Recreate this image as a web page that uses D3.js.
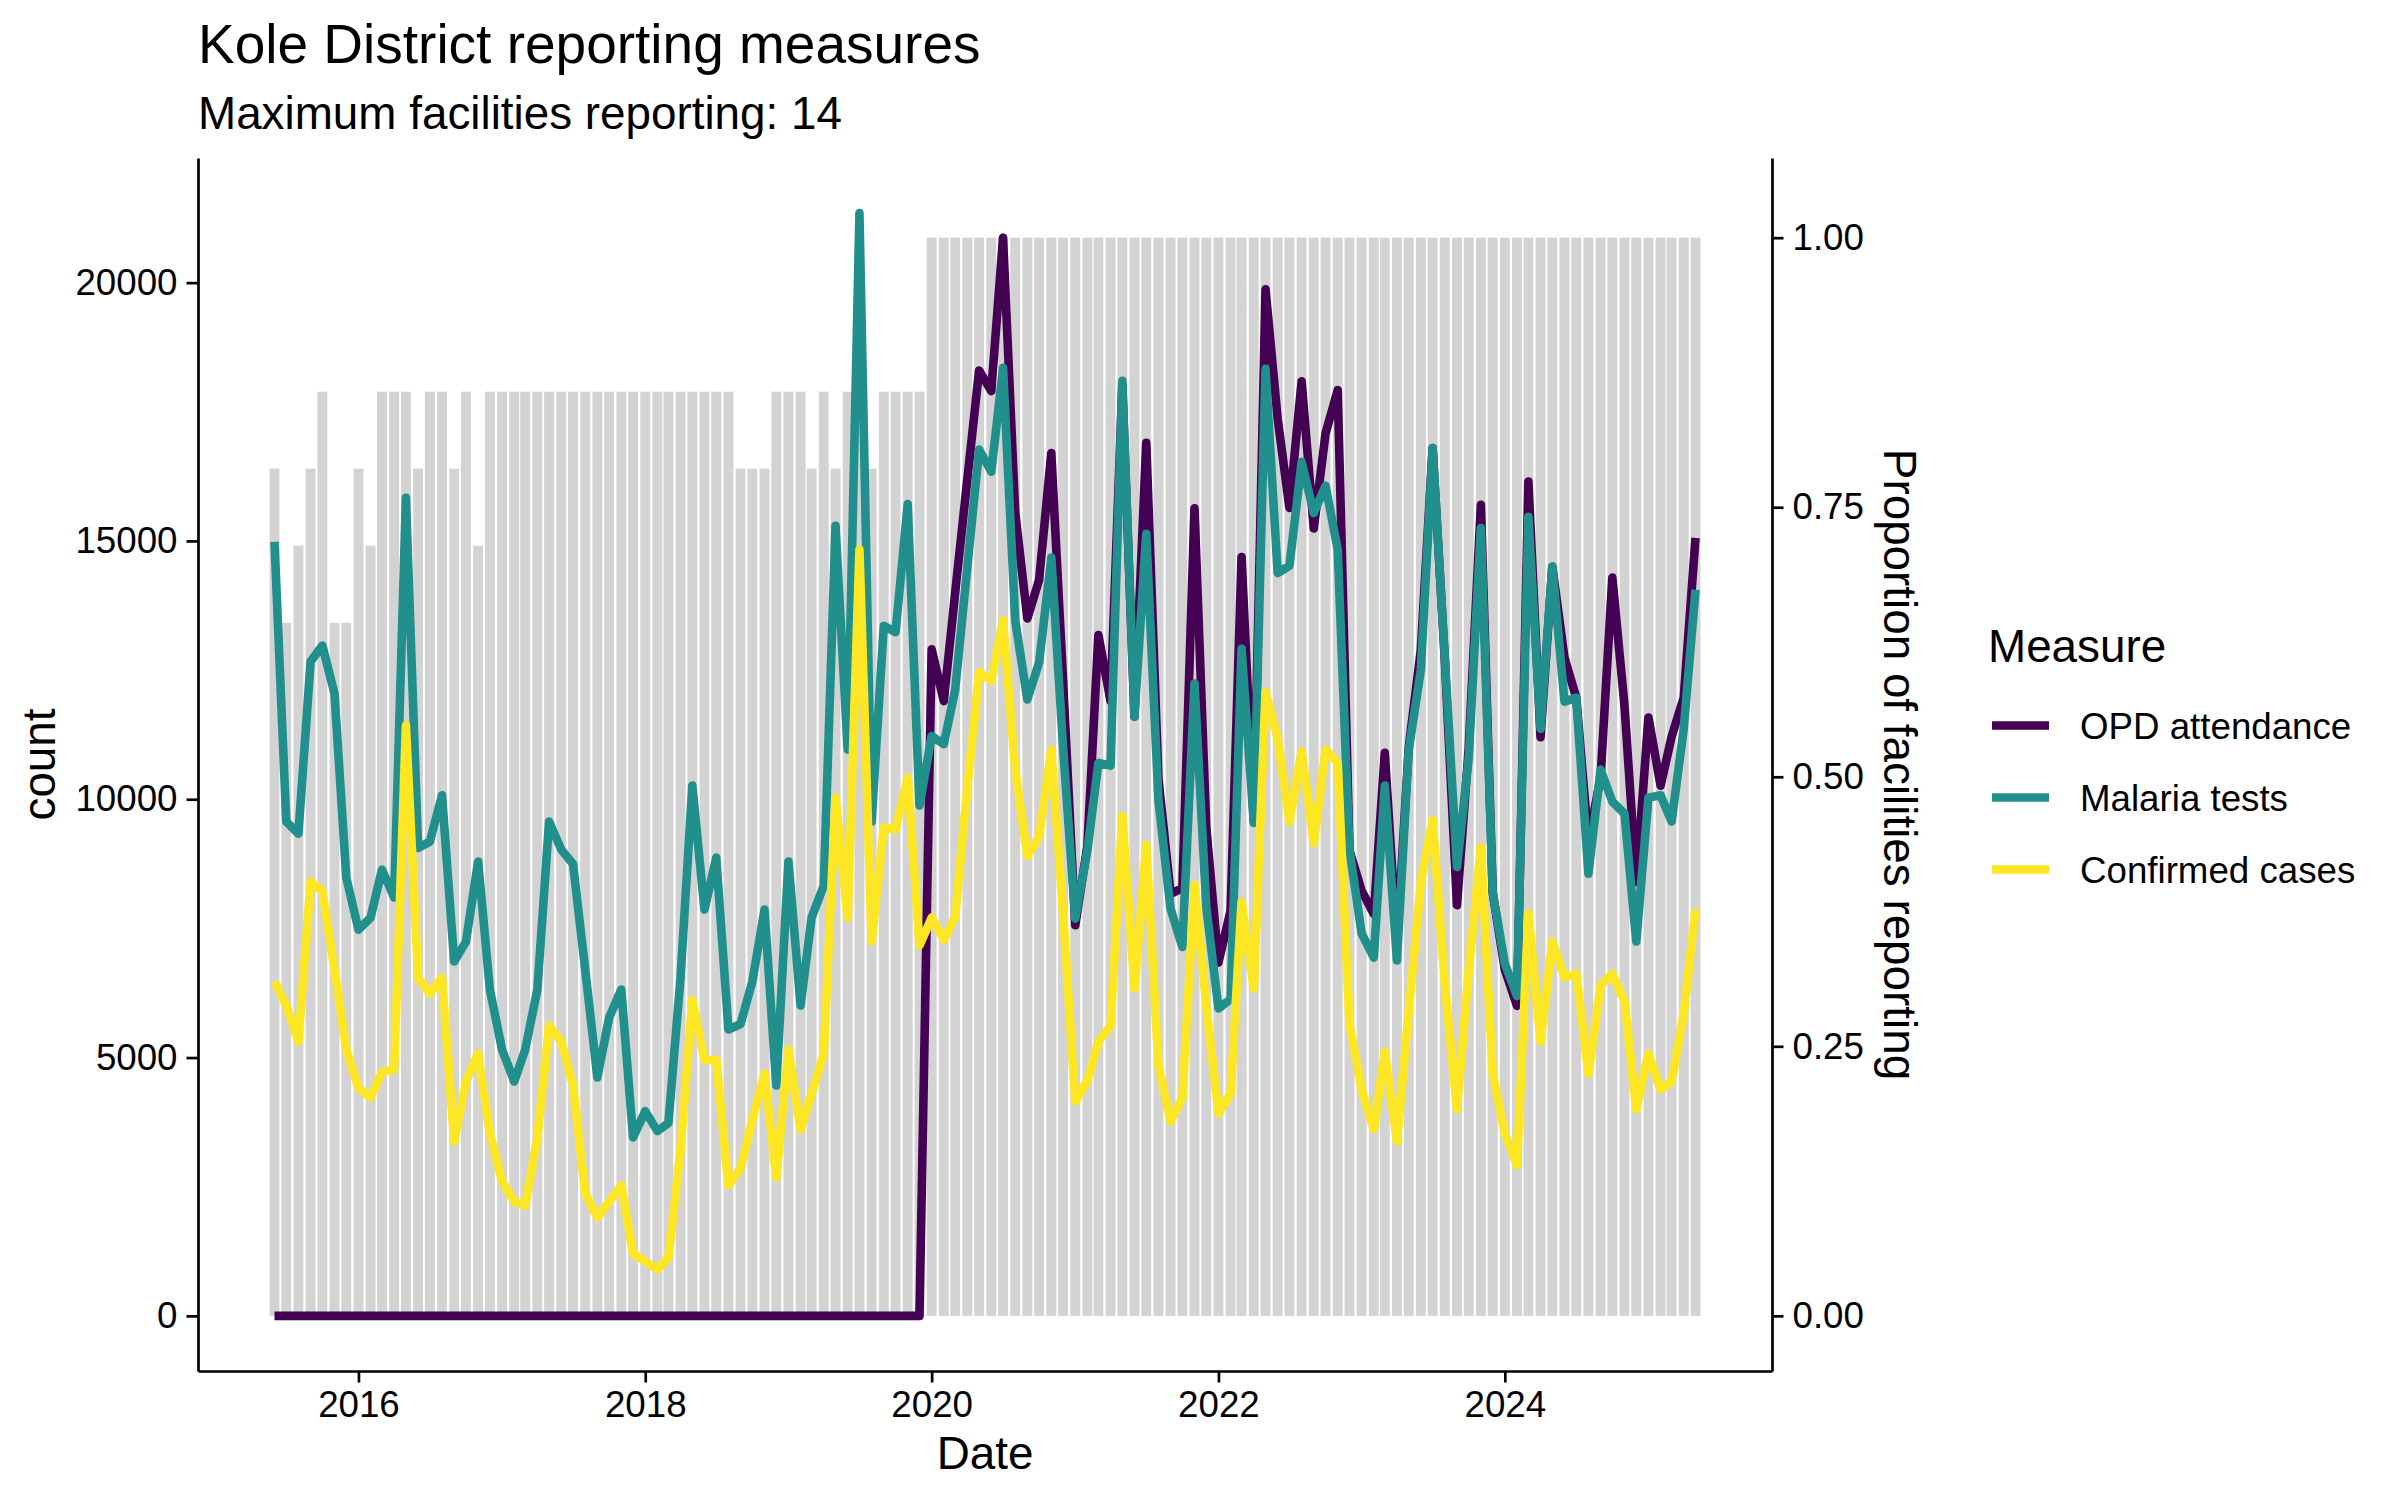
<!DOCTYPE html>
<html>
<head>
<meta charset="utf-8">
<script src="https://cdn.jsdelivr.net/npm/d3@7"></script>
<style>
  html, body { margin: 0; padding: 0; background: #ffffff; }
  svg { display: block; }
  text { font-family: "Liberation Sans", Arial, Helvetica, sans-serif; }
</style>
</head>
<body>
<svg id="chart" width="2400" height="1500"></svg>
<script>
// ---------------- DATA ----------------
const firstMonth = "2015-06-01";
const lastMonth = "2025-05-01";
const maxFacilities = 14;

// facilities reporting per month (Jun 2015 .. May 2025)
const facilitiesReporting = [
  11, 9, 10, 11, 12, 9, 9,
  11, 10, 12, 12, 12, 11, 12, 12, 11, 12, 10, 12,
  12, 12, 12, 12, 12, 12, 12, 12, 12, 12, 12, 12,
  12, 12, 12, 12, 12, 12, 12, 12, 11, 11, 11, 12, 12, 12,
  11, 12, 11, 12, 12, 11, 12, 12, 12, 12,
  14, 14, 14, 14, 14, 14, 14, 14, 14, 14, 14, 14,
  14, 14, 14, 14, 14, 14, 14, 14, 14, 14, 14, 14,
  14, 14, 14, 14, 14, 14, 14, 14, 14, 14, 14, 14,
  14, 14, 14, 14, 14, 14, 14, 14, 14, 14, 14, 14,
  14, 14, 14, 14, 14, 14, 14, 14, 14, 14, 14, 14,
  14, 14, 14, 14, 14
];

const opdAttendance = [
  0, 0, 0, 0, 0, 0, 0,
  0, 0, 0, 0, 0, 0, 0, 0, 0, 0, 0, 0,
  0, 0, 0, 0, 0, 0, 0, 0, 0, 0, 0, 0,
  0, 0, 0, 0, 0, 0, 0, 0, 0, 0, 0, 0,
  0, 0, 0, 0, 0, 0, 0, 0, 0, 0, 0, 0,
  12900, 11900, 14000, 16200, 18300, 17900, 20870, 15550, 13500, 14250, 16700, 12300,
  7560, 9100, 13180, 11900, 18000, 11600, 16900, 10400, 8170, 8280, 15630, 9450,
  6840, 7840, 14690, 9600, 19870, 17360, 15640, 18090, 15240, 17080, 17920, 9010,
  8230, 7780, 10900, 7200, 11000, 12900, 16800, 12700, 7950, 11000, 15700, 8200,
  6700, 6000, 16150, 11200, 14500, 12740, 11970, 9180, 10420, 14290, 11810, 8400,
  11580, 10260, 11210, 11970, 15060
];

const malariaTests = [
  14985, 9567, 9335, 12663, 12973, 12043, 8483,
  7477, 7709, 8638, 8096, 15836, 9056, 9180, 10077, 6858, 7245, 8793, 6316,
  5155, 4536, 5155, 6316, 9567, 9025, 8746, 6700, 4613, 5774, 6316, 3452,
  3963, 3576, 3731, 6548, 10263, 7864, 8870, 5542, 5650, 6471, 7864, 4458,
  8793, 6006, 7709, 8328, 15294, 10960, 21345, 9567, 13359, 13235, 15712, 9877,
  11223, 11068, 12121, 14500, 16770, 16340, 18350, 13460, 11930, 12650, 14680, 11000,
  7690, 9010, 10700, 10650, 18100, 11600, 15140, 9980, 7880, 7140, 12240, 7920,
  5950, 6130, 12910, 9540, 18330, 14380, 14520, 16530, 15540, 16070, 14830, 9025,
  7400, 6935, 10263, 6880, 10950, 12510, 16800, 12740, 8690, 10800, 15250, 8200,
  6820, 6190, 15465, 11363, 14505, 11889, 11966, 8560, 10573, 9954, 9721, 7245,
  10031, 10077, 9567, 11363, 14057
];

const confirmedCases = [
  6471, 6006, 5310, 8406, 8220, 6703, 5155,
  4412, 4226, 4721, 4768, 11425, 6548, 6238, 6548, 3375, 4536, 5077, 3529,
  2601, 2214, 2136, 3452, 5619, 5310, 4458, 2368, 1904, 2214, 2523, 1207,
  1052, 898, 1130, 3220, 6114, 4954, 4954, 2523, 2864, 3793, 4690, 2678,
  5155, 3607, 4303, 5077, 10031, 7709, 14830, 7245, 9458, 9412, 10418, 7167,
  7709, 7276, 7729, 10233, 12461, 12294, 13464, 10567, 8897, 9287, 10957, 7800,
  4149, 4550, 5310, 5619, 9677, 6336, 9120, 4845, 3762, 4226, 8342, 6000,
  3916, 4303, 8012, 6336, 12071, 11180, 9564, 10930, 9150, 10960, 10700, 5640,
  4381, 3607, 5110, 3375, 5900, 8400, 9600, 6420, 3994, 6703, 9070, 4690,
  3529, 2910, 7786, 5310, 7245, 6548, 6625, 4690, 6393, 6625, 6084, 3994,
  5077, 4381, 4536, 5851, 7864
];

const seriesNames = ["OPD attendance", "Malaria tests", "Confirmed cases"];
const seriesColors = ["#440154", "#21908C", "#FDE725"];
const leftTicks = [0, 5000, 10000, 15000, 20000];
const rightTicks = [0, 0.25, 0.5, 0.75, 1];
const xTickYears = [2016, 2018, 2020, 2022, 2024];

const titleText = "Kole District reporting measures";
const subtitleText = "Maximum facilities reporting: " + maxFacilities;

// ---------------- LAYOUT ----------------
const panel = { left: 198, right: 1772, top: 158, bottom: 1371 };
const DAY = 86400000;
const FONT = '"Liberation Sans", Arial, Helvetica, sans-serif';
const tickLen = 11.5, tickPad = 9;
const LW = 8.6;

const svg = d3.select("#chart");

const months = d3.utcMonth.range(new Date(firstMonth + "T00:00:00Z"),
                                 d3.utcMonth.offset(new Date(lastMonth + "T00:00:00Z"), 1));
const proportion = facilitiesReporting.map(f => f / maxFacilities);
const scaleFactor = d3.max(opdAttendance);
const series = [opdAttendance, malariaTests, confirmedCases];

// x scale: bars with width 0.9 * min spacing (28 days), 5% expansion
const barHalf = 0.9 * 28 * DAY / 2;
const lo = +months[0] - barHalf, hi = +months[months.length - 1] + barHalf;
const span = hi - lo;
const x = d3.scaleUtc()
  .domain([new Date(lo - 0.05 * span), new Date(hi + 0.05 * span)])
  .range([panel.left, panel.right]);

// y scale
const yMax = d3.max([d3.max(opdAttendance), d3.max(malariaTests), d3.max(confirmedCases),
                     d3.max(proportion) * scaleFactor]);
const yMin = 0;
const yExp = 0.05 * (yMax - yMin);
const y = d3.scaleLinear().domain([yMin - yExp, yMax + yExp]).range([panel.bottom, panel.top]);
const yR = d3.scaleLinear().domain(y.domain().map(v => v / scaleFactor)).range([panel.bottom, panel.top]);

// ---------------- BARS ----------------
svg.append("g").selectAll("rect")
  .data(months)
  .join("rect")
  .attr("x", (d) => x(new Date(+d - barHalf)))
  .attr("width", (d) => x(new Date(+d + barHalf)) - x(new Date(+d - barHalf)))
  .attr("y", (d, i) => y(proportion[i] * scaleFactor))
  .attr("height", (d, i) => y(0) - y(proportion[i] * scaleFactor))
  .attr("fill", "#D3D3D3");

// ---------------- LINES ----------------
const line = d3.line().x((d, i) => x(months[i])).y(d => y(d));
series.forEach((s, k) => {
  svg.append("path")
    .datum(s)
    .attr("d", line)
    .attr("fill", "none")
    .attr("stroke", seriesColors[k])
    .attr("stroke-width", LW)
    .attr("stroke-linejoin", "round")
    .attr("stroke-linecap", "butt");
});

// ---------------- AXES ----------------
function styleAxis(g) {
  g.select(".domain").attr("stroke", "#000").attr("stroke-width", 2.7);
  g.selectAll(".tick line").attr("stroke", "#000").attr("stroke-width", 2.7);
  g.selectAll(".tick text").attr("fill", "#000").style("font-family", FONT).style("font-size", "36.7px");
}

const axL = svg.append("g").attr("transform", `translate(${panel.left},0)`)
  .call(d3.axisLeft(y).tickValues(leftTicks).tickFormat(d3.format("d"))
        .tickSize(tickLen).tickSizeOuter(0).tickPadding(tickPad));
styleAxis(axL);

const axR = svg.append("g").attr("transform", `translate(${panel.right},0)`)
  .call(d3.axisRight(yR).tickValues(rightTicks).tickFormat(d3.format(".2f"))
        .tickSize(tickLen).tickSizeOuter(0).tickPadding(tickPad));
styleAxis(axR);

const axB = svg.append("g").attr("transform", `translate(0,${panel.bottom})`)
  .call(d3.axisBottom(x).tickValues(xTickYears.map(yr => new Date(Date.UTC(yr, 0, 1))))
        .tickFormat(d3.utcFormat("%Y"))
        .tickSize(tickLen).tickSizeOuter(0).tickPadding(tickPad));
styleAxis(axB);
axB.selectAll(".tick text").attr("dy", null).attr("y", 46);

// axis titles
const midY = (panel.top + panel.bottom) / 2;
svg.append("text")
  .attr("transform", `translate(55,${midY}) rotate(-90)`)
  .attr("text-anchor", "middle")
  .style("font-size", "45.8px").attr("fill", "#000")
  .text("count");

svg.append("text")
  .attr("transform", `translate(1884,${midY}) rotate(90)`)
  .attr("text-anchor", "middle")
  .style("font-size", "45.8px").attr("fill", "#000")
  .text("Proportion of facilities reporting");

svg.append("text")
  .attr("x", (panel.left + panel.right) / 2).attr("y", 1469)
  .attr("text-anchor", "middle")
  .style("font-size", "45.8px").attr("fill", "#000")
  .text("Date");

// titles
svg.append("text").attr("x", panel.left).attr("y", 63)
  .style("font-size", "55px").attr("fill", "#000").text(titleText);
svg.append("text").attr("x", panel.left).attr("y", 129)
  .style("font-size", "45.8px").attr("fill", "#000").text(subtitleText);

// ---------------- LEGEND ----------------
const legX = 1988, legTitleY = 662, keyY0 = 725.5, keyStep = 72;
svg.append("text").attr("x", legX).attr("y", legTitleY)
  .style("font-size", "45.8px").attr("fill", "#000").text("Measure");
const leg = svg.append("g");
seriesNames.forEach((name, k) => {
  const ky = keyY0 + k * keyStep;
  leg.append("line")
    .attr("x1", 1992).attr("x2", 2049)
    .attr("y1", ky).attr("y2", ky)
    .attr("stroke", seriesColors[k]).attr("stroke-width", LW);
  leg.append("text")
    .attr("x", 2080).attr("y", ky + 13.5)
    .style("font-size", "36.7px").attr("fill", "#000")
    .text(name);
});
</script>
</body>
</html>
